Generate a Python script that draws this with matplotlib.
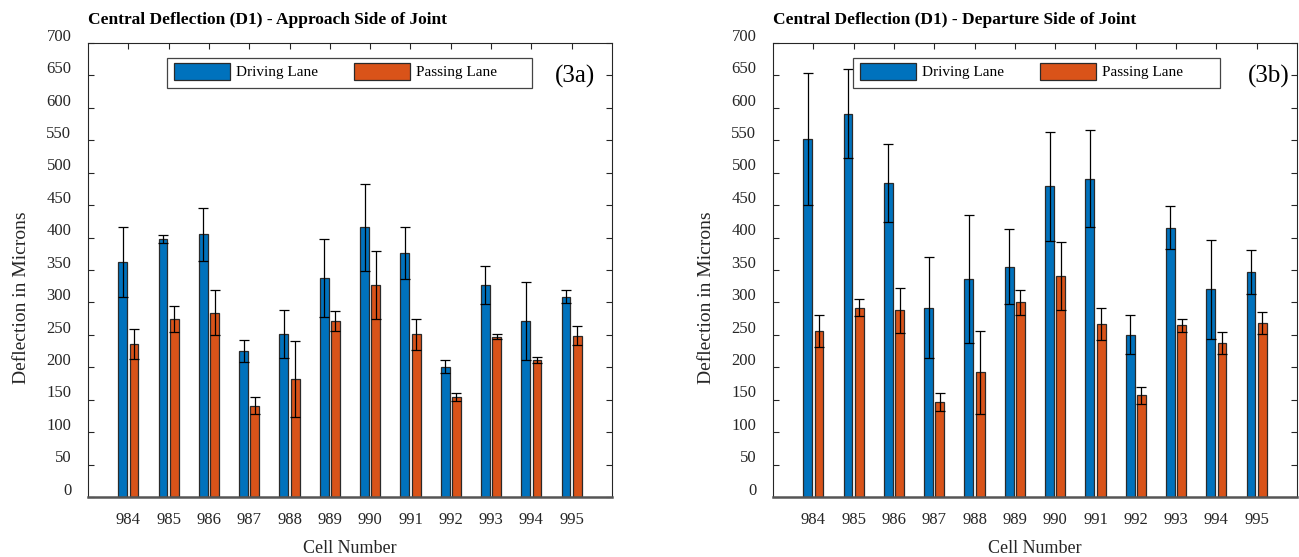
import numpy as np
import matplotlib
matplotlib.use('Agg')
from matplotlib import pyplot as plt
from matplotlib import transforms
from matplotlib.patches import Rectangle

plt.rcParams['font.family'] = ['Liberation Serif', 'DejaVu Serif']

cells = ['984', '985', '986', '987', '988', '989', '990', '991', '992', '993', '994', '995']

# (3a) approach side of joint
approachDriving = [362, 398, 405, 225, 252, 338, 416, 376, 201, 327, 272, 309]
approachDrivingErr = [54, 6, 41, 17, 37, 60, 67, 40, 10.5, 29.5, 60, 9.5]
approachPassing = [236, 274, 284, 141, 182, 271, 327, 251, 154, 247, 211, 249]
approachPassingErr = [23.5, 20, 34.5, 13, 59, 15.5, 52, 24, 6.5, 4, 5, 14.5]

# (3b) departure side of joint
departureDriving = [552, 591, 484, 292, 336, 355, 479, 491, 250, 415, 320, 347]
departureDrivingErr = [102, 69, 60.5, 78, 99, 58, 84, 75, 30, 33, 76.5, 34]
departurePassing = [256, 292, 288, 146, 192, 300, 341, 267, 157, 265, 238, 268]
departurePassingErr = [25, 13.5, 34.5, 14, 64, 19, 52, 25, 13, 10, 17, 17]

blue = '#0072BD'
orange = '#D95319'


def drawPanel(fig, rect, title, tag, tagX, boxX, driving, drivingErr, passing, passingErr):
    ax = fig.add_axes(rect)
    x = np.arange(1, len(cells) + 1)
    w = 0.22
    off = 0.14
    b1 = ax.bar(x - off, driving, w, color=blue, edgecolor='#2a2a2a', linewidth=0.9,
                label='Driving Lane', zorder=2)
    b2 = ax.bar(x + off, passing, w, color=orange, edgecolor='#2a2a2a', linewidth=0.9,
                label='Passing Lane', zorder=2)
    ax.errorbar(x - off, driving, yerr=drivingErr, fmt='none', ecolor='black',
                elinewidth=0.9, capsize=3.6, capthick=0.9, zorder=3)
    ax.errorbar(x + off, passing, yerr=passingErr, fmt='none', ecolor='black',
                elinewidth=0.9, capsize=3.6, capthick=0.9, zorder=3)

    ax.set_xlim(0, 13)
    ax.set_ylim(0, 700)
    ax.set_xticks(x)
    ax.set_xticklabels(cells)
    ax.set_yticks(np.arange(0, 701, 50))
    ax.tick_params(axis='both', direction='in', top=True, right=True, length=4,
                   width=0.8, colors='#262626', labelsize=12, labelcolor='#262626')
    ax.tick_params(axis='x', pad=11, bottom=False)
    ax.tick_params(axis='y', pad=12)
    shift = transforms.ScaledTranslation(0, 6 / 72, fig.dpi_scale_trans)
    for lab in ax.get_yticklabels():
        lab.set_transform(lab.get_transform() + shift)
    for s in ax.spines.values():
        s.set_color('#262626')
        s.set_linewidth(0.8)
    ax.spines['bottom'].set_linewidth(1.8)
    ax.spines['bottom'].set_color('#555555')

    ax.set_title(title, loc='left', fontsize=12.5, fontweight='bold', pad=14)
    ax.set_xlabel('Cell Number', fontsize=13, color='#262626')
    ax.xaxis.set_label_coords(0.5, -0.095)
    ax.set_ylabel('Deflection in Microns', fontsize=14, color='#262626')
    ax.yaxis.set_label_coords(-0.11, 0.438)

    # legend box drawn by hand, MATLAB style
    ax.add_patch(Rectangle((boxX[0], 0.901), boxX[1] - boxX[0], 0.066,
                           transform=ax.transAxes, facecolor='white',
                           edgecolor='#444444', linewidth=0.9, zorder=4))
    leg = ax.legend(handles=[b1, b2], ncol=2, loc='upper left',
                    bbox_to_anchor=(boxX[0] + 0.004, 0.967), fontsize=11, frameon=False,
                    handlelength=3.65, handleheight=1.4,
                    columnspacing=2.4, handletextpad=0.4, borderpad=0.3,
                    borderaxespad=0)
    leg.set_zorder(5)
    ax.text(tagX, 0.927, tag, transform=ax.transAxes, fontsize=18,
            ha='center', va='center', color='black')
    return ax


fig = plt.figure(figsize=(12.99, 5.57), dpi=100)
drawPanel(fig, [88 / 1299, 60 / 557, 524 / 1299, 454 / 557],
          'Central Deflection (D1) - Approach Side of Joint', '(3a)', 0.93, (0.151, 0.847),
          approachDriving, approachDrivingErr, approachPassing, approachPassingErr)
drawPanel(fig, [773 / 1299, 60 / 557, 524 / 1299, 454 / 557],
          'Central Deflection (D1) - Departure Side of Joint', '(3b)', 0.947, (0.153, 0.853),
          departureDriving, departureDrivingErr, departurePassing, departurePassingErr)

fig.savefig('out.png', dpi=100)
